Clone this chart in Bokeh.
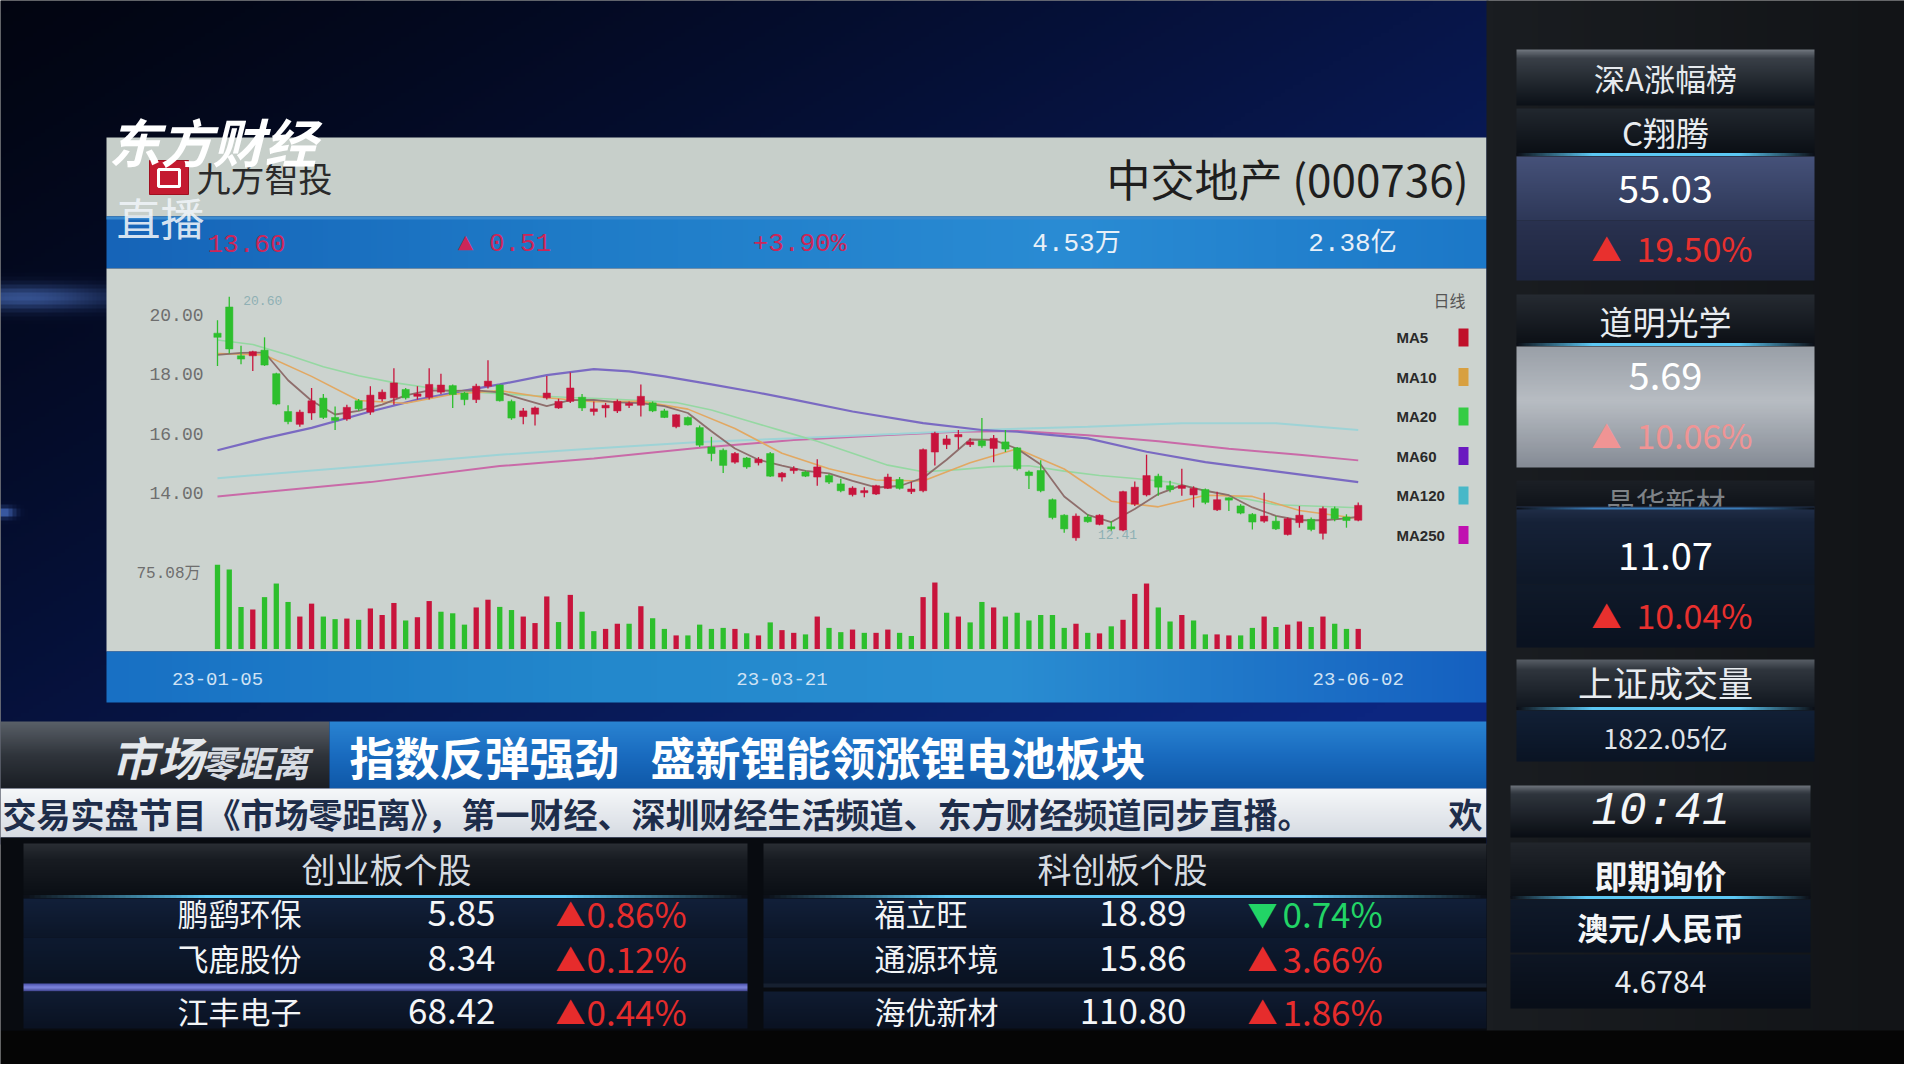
import numpy as np
from bokeh.plotting import figure
from bokeh.models import Range1d, ColumnDataSource
from bokeh.core.properties import value
from bokeh.embed import file_html
from bokeh.resources import INLINE

# ---------------- data ----------------
stock_title = "中交地产 (000736)"
hdr_price = "13.60"
hdr_change = "▲ 0.51"
hdr_pct = "+3.90%"
hdr_volume = "4.53万"
hdr_amount = "2.38亿"

date_labels = ["23-01-05", "23-03-21", "23-06-02"]
date_pos = [0, 48, 97]
price_ticks = [20.0, 18.0, 16.0, 14.0]
price_tick_labels = ["20.00", "18.00", "16.00", "14.00"]
vol_max_label = "75.08万"

opens = [19.38, 20.26, 18.62, 18.62, 18.81, 18.02, 16.75, 16.32, 16.70, 17.20,
         16.55, 16.50, 17.11, 16.73, 17.17, 17.21, 17.49, 17.26, 17.23, 17.40,
         17.62, 17.37, 17.15, 17.60, 17.64, 17.09, 16.58, 16.66, 17.21, 16.87,
         17.09, 17.23, 16.75, 16.87, 16.77, 16.98, 16.96, 17.04, 16.77, 16.24,
         16.55, 16.21, 15.56, 15.45, 15.05, 15.19, 15.03, 15.34, 14.55, 14.79,
         14.72, 14.55, 14.60, 14.32, 13.96, 14.05, 13.98, 14.17, 14.47, 14.06,
         14.09, 15.39, 15.64, 15.90, 15.64, 15.77, 15.51, 15.73, 15.53, 14.72,
         14.77, 13.79, 13.27, 12.51, 13.21, 12.96, 12.88, 12.77, 13.64, 13.95,
         14.58, 14.26, 14.17, 13.95, 14.13, 13.45, 13.83, 13.58, 13.30, 13.07,
         13.07, 12.62, 13.02, 13.13, 12.66, 13.49, 13.21, 13.10]
highs = [19.81, 20.60, 18.96, 18.79, 19.24, 18.05, 16.96, 16.81, 17.54, 17.34,
         16.92, 16.98, 17.17, 17.60, 17.49, 18.20, 17.54, 17.60, 18.20, 18.02,
         17.66, 17.41, 17.68, 18.47, 17.66, 17.15, 16.87, 16.92, 17.94, 17.18,
         18.06, 17.34, 17.09, 17.04, 17.15, 17.09, 17.66, 17.09, 16.84, 16.66,
         16.58, 16.28, 15.90, 15.51, 15.39, 15.22, 15.22, 15.39, 14.72, 14.91,
         14.77, 15.15, 14.66, 14.49, 14.24, 14.21, 14.29, 14.66, 14.55, 14.38,
         15.51, 16.07, 15.96, 16.13, 15.85, 16.53, 15.96, 16.13, 15.56, 14.77,
         15.11, 13.83, 13.30, 13.33, 13.30, 13.30, 13.07, 14.09, 14.40, 15.30,
         14.66, 14.43, 14.83, 14.24, 14.17, 14.06, 13.86, 13.64, 13.34, 14.02,
         13.24, 13.19, 13.58, 13.19, 13.56, 13.56, 13.30, 13.70]
lows = [18.28, 18.70, 18.34, 18.11, 18.28, 16.96, 16.32, 16.24, 16.47, 16.50,
        16.13, 16.44, 16.77, 16.64, 17.09, 16.98, 17.15, 17.15, 17.15, 17.34,
        16.87, 16.96, 17.04, 17.52, 17.09, 16.47, 16.32, 16.28, 17.15, 16.84,
        17.04, 16.77, 16.62, 16.55, 16.70, 16.87, 16.58, 16.73, 16.53, 16.19,
        16.28, 15.56, 15.08, 14.69, 15.00, 14.83, 14.94, 14.55, 14.40, 14.66,
        14.55, 14.26, 14.32, 14.04, 13.90, 13.87, 13.95, 14.15, 14.13, 13.98,
        14.04, 14.94, 15.49, 15.49, 15.56, 15.53, 15.05, 15.39, 14.77, 14.15,
        14.04, 13.13, 12.68, 12.41, 13.02, 12.93, 12.73, 12.73, 13.58, 13.90,
        13.92, 14.04, 13.92, 13.53, 13.64, 13.41, 13.41, 13.30, 12.79, 13.02,
        12.77, 12.59, 12.85, 12.73, 12.45, 13.07, 12.85, 13.07]
closes = [19.24, 18.85, 18.51, 18.76, 18.31, 17.00, 16.41, 16.73, 17.11, 16.55,
          16.45, 16.89, 16.84, 17.30, 17.40, 17.71, 17.21, 17.34, 17.66, 17.64,
          17.32, 17.15, 17.60, 17.77, 17.11, 16.53, 16.77, 16.87, 17.37, 17.09,
          17.54, 16.87, 16.84, 16.96, 17.09, 17.00, 17.26, 16.77, 16.55, 16.64,
          16.30, 15.62, 15.34, 14.94, 15.34, 14.89, 15.15, 14.58, 14.68, 14.81,
          14.58, 14.89, 14.38, 14.09, 14.18, 14.07, 14.26, 14.55, 14.17, 14.15,
          15.47, 16.02, 15.83, 15.98, 15.73, 15.60, 15.85, 15.49, 14.83, 14.60,
          14.09, 13.19, 12.81, 13.24, 13.05, 13.27, 12.81, 14.06, 14.21, 14.60,
          14.21, 14.13, 14.26, 14.17, 13.70, 13.79, 13.80, 13.34, 13.04, 13.24,
          12.81, 13.15, 13.27, 12.79, 13.49, 13.15, 13.09, 13.60]
volumes = [75.08, 70.7, 37.5, 35.2, 46.2, 58.3, 41.9, 28.9, 40.4, 28.9,
           26.6, 27.1, 26.0, 36.1, 30.3, 41.0, 25.4, 28.3, 42.7, 33.2,
           31.8, 21.7, 37.0, 43.9, 37.5, 34.7, 28.9, 23.1, 46.8, 24.0,
           48.2, 33.2, 15.9, 17.9, 22.5, 22.5, 38.1, 27.4, 17.9, 12.1,
           12.1, 21.7, 17.9, 18.8, 17.9, 14.0, 12.1, 23.7, 16.8, 14.4,
           13.0, 28.9, 18.8, 15.0, 17.3, 14.4, 14.4, 17.3, 14.4, 11.6,
           46.2, 59.2, 32.3, 28.9, 23.7, 41.9, 37.0, 28.9, 32.3, 25.4,
           30.3, 30.3, 18.8, 22.5, 14.4, 13.9, 20.2, 26.0, 49.1, 58.3,
           37.0, 24.5, 30.3, 25.4, 13.0, 13.0, 12.1, 12.1, 18.8, 28.9,
           19.6, 21.7, 24.5, 19.6, 28.9, 22.5, 17.9, 17.9]

ma5_idx = [0, 2, 4, 6, 8, 10, 12, 14, 16, 18, 20, 22, 24, 26, 28, 30, 32, 34, 36, 38,
           40, 42, 44, 46, 48, 50, 52, 54, 56, 58, 60, 62, 64, 66, 68, 70, 72, 74, 76, 78,
           80, 82, 84, 86, 88, 90, 92, 94, 96, 97]
ma5_val = [18.65, 18.72, 18.73, 17.80, 17.11, 16.65, 16.77, 16.98, 17.29, 17.46,
           17.44, 17.46, 17.39, 17.16, 16.93, 17.13, 17.14, 17.06, 17.03, 16.93,
           16.70, 16.09, 15.51, 15.13, 14.93, 14.76, 14.67, 14.42, 14.20, 14.25,
           14.52, 15.13, 15.81, 15.80, 15.50, 14.97, 13.90, 13.28, 13.04, 13.48,
           13.98, 14.28, 14.09, 13.94, 13.53, 13.25, 13.10, 13.10, 13.16, 13.22]
ma10_idx = [0, 4, 8, 12, 16, 20, 24, 28, 32, 36, 40, 44, 48, 52, 56, 60, 64, 68, 72,
            76, 80, 84, 88, 92, 97]
ma10_val = [18.70, 18.65, 17.93, 17.12, 17.03, 17.33, 17.45, 17.21, 17.08, 17.09,
            16.83, 16.18, 15.35, 14.83, 14.45, 14.42, 15.03, 15.50, 14.82, 13.74,
            13.55, 13.94, 13.90, 13.43, 13.16]
ma20_idx = [0, 3, 6, 9, 12, 15, 18, 21, 24, 27, 30, 33, 36, 39, 42, 45, 48, 51, 54,
            57, 60, 63, 66, 69, 72, 75, 78, 81, 84, 87, 90, 93, 97]
ma20_val = [19.15, 19.00, 18.65, 18.25, 17.95, 17.72, 17.55, 17.42, 17.35, 17.28,
            17.22, 17.18, 17.12, 17.05, 16.80, 16.45, 16.10, 15.75, 15.35, 14.95,
            14.73, 14.80, 14.90, 14.93, 14.75, 14.60, 14.50, 14.38, 14.10, 13.85,
            13.62, 13.58, 13.52]
ma60_idx = [0, 4, 8, 13, 17, 21, 24, 28, 32, 35, 38, 42, 46, 49, 54, 60, 65, 68, 71,
            74, 79, 84, 90, 97]
ma60_val = [15.45, 15.85, 16.20, 16.75, 17.15, 17.45, 17.66, 17.97, 18.17, 18.10,
            17.93, 17.66, 17.38, 17.15, 16.75, 16.36, 16.13, 16.07, 15.96, 15.85,
            15.40, 15.05, 14.74, 14.38]
ma120_idx = [0, 12, 24, 32, 41, 49, 58, 66, 74, 82, 90, 97]
ma120_val = [14.51, 14.90, 15.30, 15.51, 15.73, 15.85, 16.00, 16.15, 16.24, 16.36,
             16.36, 16.13]
ma250_idx = [0, 13, 24, 32, 41, 49, 57, 63, 68, 74, 80, 86, 92, 97]
ma250_val = [13.90, 14.38, 14.92, 15.17, 15.53, 15.79, 15.96, 16.07, 16.10, 15.95,
             15.75, 15.50, 15.30, 15.11]
ma_names = ["MA5", "MA10", "MA20", "MA60", "MA120", "MA250"]

sz_title = "深A涨幅榜"
sz_names = ["C翔腾", "道明光学", "晶华新材"]
sz_prices = ["55.03", "5.69", "11.07"]
sz_pcts = ["19.50%", "10.06%", "10.04%"]
sh_title = "上证成交量"
sh_volume = "1822.05亿"
clock = "10:41"
fx_title = "即期询价"
fx_pair = "澳元/人民币"
fx_rate = "4.6784"

cyb_title = "创业板个股"
cyb_names = ["鹏鹞环保", "飞鹿股份", "江丰电子"]
cyb_prices = ["5.85", "8.34", "68.42"]
cyb_pcts = ["0.86%", "0.12%", "0.44%"]
cyb_up = [True, True, True]
kcb_title = "科创板个股"
kcb_names = ["福立旺", "通源环境", "海优新材"]
kcb_prices = ["18.89", "15.86", "110.80"]
kcb_pcts = ["0.74%", "3.66%", "1.86%"]
kcb_up = [False, True, True]

headline_a = "指数反弹强劲"
headline_b = "盛新锂能领涨锂电池板块"
ticker_text = "交易实盘节目《市场零距离》，第一财经、深圳财经生活频道、东方财经频道同步直播。"
ticker_tail = "欢"

# ---------------- styling / layout ----------------
CJK = "Noto Sans CJK SC"
MONO = "Liberation Mono, 'Noto Sans CJK SC'"
UP = "#c8143c"
DN = "#2dbf2d"
MA_COLORS = ["#8e6e6c", "#e2a862", "#95d8a2", "#7a6ac2", "#9ed3d6", "#c96aa8"]
LEG_COLORS = ["#c0102a", "#d8a040", "#34cc44", "#6a18c0", "#48b8c8", "#c010b0"]

X0, DX = 225.0, 11.76          # pixel of first candle, pixel step
Y20, PPU = 322.2, 29.79        # pixel of price 20, pixels per unit
VY0, VPU = 656.5, 1.1228       # volume baseline pixel, pixels per 万

p = figure(width=1904, height=1064, x_range=Range1d(8, 1912), y_range=Range1d(-1072, -8),
           x_axis_type=None, y_axis_type=None, toolbar_location=None,
           output_backend="svg", min_border=0, background_fill_color="#06080c",
           border_fill_color="#06080c", outline_line_color=None)
p.extra_x_ranges = {"idx": Range1d((8 - X0) / DX, (1912 - X0) / DX)}
p.extra_y_ranges = {
    "price": Range1d(20 - (1072 - Y20) / PPU, 20 + (Y20 - 8) / PPU),
    "vol": Range1d(-(1072 - VY0) / VPU, (VY0 - 8) / VPU),
}


def hexrgb(h):
    return np.array([int(h[i:i + 2], 16) for i in (1, 3, 5)], float)


def to_rgba(arr):
    arr = np.clip(arr, 0, 255).astype(np.uint8)[::-1]
    h, w, _ = arr.shape
    img = np.empty((h, w), dtype=np.uint32)
    v = img.view(dtype=np.uint8).reshape((h, w, 4))
    v[..., :3] = arr
    v[..., 3] = 255
    return img


def grad(x0, y0, x1, y1, stops, vertical=True, n=96):
    t = np.linspace(0, 1, n)
    pos = [s[0] for s in stops]
    cols = np.array([hexrgb(s[1]) for s in stops])
    c = np.stack([np.interp(t, pos, cols[:, k]) for k in range(3)], axis=-1)
    if vertical:
        arr = np.repeat(c[:, None, :], 2, axis=1)
    else:
        arr = np.repeat(c[None, :, :], 2, axis=0)
    p.image_rgba(image=[to_rgba(arr)], x=x0, y=-y1, dw=x1 - x0, dh=y1 - y0)


def box(x0, y0, x1, y1, color, alpha=1.0, line=None, lw=1):
    p.quad(left=[x0], right=[x1], top=[-y0], bottom=[-y1], fill_color=color,
           fill_alpha=alpha, line_color=line, line_width=lw)


def T(x, y, s, size, color, align="left", bold=False, italic=False, font=CJK, alpha=1.0):
    style = "normal"
    if bold and italic:
        style = "bold italic"
    elif bold:
        style = "bold"
    elif italic:
        style = "italic"
    p.text(x=[x], y=[-y], text=[s], text_font=value(font), text_font_size=f"{size}px",
           text_color=color, text_alpha=alpha, text_align=align, text_baseline="middle",
           text_font_style=style)


def glow(x0, x1, y, color="#5cc8f4", h=3):
    grad(x0, y - h / 2, x1, y + h / 2,
         [(0, "#0c1018"), (0.25, color), (0.75, color), (1, "#0c1018")], vertical=False, n=128)


# ---------------- background ----------------
w, h = 372, 211
xs = 8 + (np.arange(w) + 0.5) * 4
ys = 8 + (np.arange(h) + 0.5) * 4
XX, YY = np.meshgrid(xs, ys)
f = np.clip(0.05 + 0.55 * XX / 1494 + 0.45 * YY / 730, 0, 1) ** 1.3
dark = np.array([2, 4, 14.])
blue = np.array([12, 38, 128.])
col = dark + (blue - dark) * f[..., None]
g1 = np.exp(-(((XX - 30) / 90) ** 2 + ((YY - 305) / 12) ** 2))
g2 = np.exp(-(((XX - 12) / 10) ** 2 + ((YY - 520) / 5) ** 2))
col += (0.55 * g1 + 0.7 * g2)[..., None] * np.array([90, 130, 200.])
p.image_rgba(image=[to_rgba(col)], x=8, y=-852, dw=1488, dh=844)

# ---------------- chart panel ----------------
box(114, 145, 1494, 224, "#c7cfca")
grad(114, 224, 1494, 276, [(0, "#1664b8"), (0.35, "#1f7cc8"), (0.7, "#2a8cd4"), (1, "#1c78c8")],
     vertical=False, n=256)
box(114, 224, 1494, 227, "#3a8ad0")
box(114, 276, 1494, 659, "#ccd3cf")
grad(114, 659, 1494, 710, [(0, "#1870c4"), (0.35, "#2388cc"), (0.65, "#2a8ed2"), (1, "#1560c0")],
     vertical=False, n=256)

# logo 九方智投
box(157, 168, 196, 202, "#c41a30", line="#a01020", lw=1)
box(166, 177, 187, 194, "#c41a30", line="#ffffff", lw=3)
T(204, 185, "九方智投", 34, "#2a2a2a")
T(1476, 185, stock_title, 44, "#1e1e1e", align="right")

T(254, 251, hdr_price, 26, "#cc2658", align="center", font=MONO)
T(512, 251, hdr_change, 26, "#cc2658", align="center", font=MONO)
T(807, 251, hdr_pct, 26, "#cc2658", align="center", font=MONO)
T(1084, 251, hdr_volume, 26, "#e8f0f8", align="center", font=MONO)
T(1360, 251, hdr_amount, 26, "#e8f0f8", align="center", font=MONO)

# y labels (price scale)
p.text(x=[211] * len(price_ticks), y=price_ticks, text=price_tick_labels, y_range_name="price",
       text_font=value(MONO), text_font_size="18px", text_color="#6e6e6e",
       text_align="right", text_baseline="middle")
p.text(x=[208], y=[max(volumes)], text=[vol_max_label], y_range_name="vol",
       text_font=value(MONO), text_font_size="16px", text_color="#6e6e6e",
       text_align="right", text_baseline="top")
p.text(x=date_pos, y=[-686] * len(date_pos), text=date_labels, x_range_name="idx",
       text_font=value(MONO), text_font_size="19px", text_color="#cfe2f4",
       text_align="center", text_baseline="middle")

# legend
T(1473, 307, "日线", 16, "#555555", align="right")
for k, nm in enumerate(ma_names):
    yy = 345 + k * 39.5
    T(1404, yy, nm, 15, "#2a2a2a", font="Liberation Sans", bold=True)
    box(1466, yy - 9, 1476, yy + 9, LEG_COLORS[k])

# ---------------- ticker ----------------
grad(8, 729, 337, 796, [(0, "#5a6068"), (0.5, "#30353c"), (1, "#1a1e24")])
grad(337, 729, 1494, 796, [(0, "#2a84d2"), (0.5, "#1a6cc0"), (1, "#0f58a8")])
T(119, 763, "市场", 46, "#e4e8ec", bold=True, italic=True)
T(208, 768, "零距离", 36, "#d8dce2", bold=True, italic=True)
T(357, 764, headline_a, 45, "#ffffff", bold=True)
T(658, 764, headline_b, 45, "#ffffff", bold=True)
grad(8, 796, 1494, 845, [(0, "#f6f8fa"), (1, "#d6dbe2")])
T(10, 821, ticker_text, 34, "#1e2d4a", bold=True)
T(1456, 821, ticker_tail, 34, "#1e2d4a", bold=True)

# ---------------- right column ----------------
grad(1494, 8, 1912, 1040, [(0, "#1a1d21"), (1, "#121417")], vertical=False, n=64)
box(8, 1038, 1912, 1072, "#050505")
box(8, 845, 1494, 1038, "#080b10")

RX0, RX1, RC = 1524, 1822, 1673
grad(RX0, 57, RX1, 113, [(0, "#70767e"), (0.15, "#3a4048"), (1, "#0c1118")])
T(RC, 85, sz_title, 31, "#e6eaee", align="center")
grad(RX0, 116, RX1, 163, [(0, "#22282f"), (1, "#0a0e14")])
glow(RX0, RX1, 162)
T(RC, 139, sz_names[0], 33, "#e8ecf0", align="center")
grad(RX0, 164, RX1, 228, [(0, "#46527a"), (1, "#2e3858")])
grad(RX0, 228, RX1, 288, [(0, "#2a3250"), (1, "#1e2640")])
T(RC, 196, sz_prices[0], 38, "#ffffff", align="center")
T(1614, 255, "▲", 30, "#e8302e", align="center")
T(1702, 255, sz_pcts[0], 34, "#e8302e", align="center")

grad(RX0, 302, RX1, 352, [(0, "#262b32"), (1, "#0c1016")])
glow(RX0, RX1, 352)
T(RC, 328, sz_names[1], 33, "#e8ecf0", align="center")
grad(RX0, 354, RX1, 475, [(0, "#9aa0a8"), (0.45, "#b8bdc3"), (1, "#868c96")])
T(RC, 383, sz_prices[1], 38, "#ffffff", align="center")
T(1614, 442, "▲", 30, "#f09494", align="center")
T(1702, 442, sz_pcts[1], 34, "#f09494", align="center")

grad(RX0, 488, RX1, 514, [(0, "#1c2026"), (1, "#10141a")])
T(RC, 508, sz_names[2], 30, "#c8ccd0", align="center", alpha=0.6)
grad(RX0, 514, RX1, 592, [(0, "#22304a"), (0.2, "#162238"), (1, "#0e1828")])
glow(RX0, RX1, 516, color="#3a7cb8", h=2)
grad(RX0, 592, RX1, 655, [(0, "#101a2a"), (1, "#0a1220")])
T(RC, 563, sz_prices[2], 38, "#ffffff", align="center")
T(1614, 622, "▲", 30, "#e8302e", align="center")
T(1702, 622, sz_pcts[2], 34, "#e8302e", align="center")

grad(RX0, 667, RX1, 716, [(0, "#565c64"), (0.2, "#30363e"), (1, "#10161e")])
glow(RX0, RX1, 716)
T(RC, 689, sh_title, 35, "#e8ecf0", align="center")
grad(RX0, 718, RX1, 769, [(0, "#122036"), (1, "#0a1424")])
T(RC, 745, sh_volume, 27, "#e0e4e8", align="center")

grad(1518, 793, 1818, 845, [(0, "#6c727a"), (0.15, "#30363e"), (1, "#0a0e14")])
T(1668, 819, clock, 46, "#f4f6f8", align="center", font="Liberation Mono", italic=True)
grad(1518, 850, 1818, 905, [(0, "#22262c"), (1, "#0c1016")])
glow(1518, 1818, 905)
T(1668, 882, fx_title, 33, "#f4f6f8", align="center", bold=True)
grad(1518, 907, 1818, 960, [(0, "#101a2a"), (1, "#0a1220")])
T(1668, 934, fx_pair, 31, "#f4f6f8", align="center", bold=True)
grad(1518, 962, 1818, 1016, [(0, "#0e1624"), (1, "#080e18")])
T(1668, 989, fx_rate, 30, "#e8ecf0", align="center")

# ---------------- bottom tables ----------------
def table(x0, x1, title, tcx, names, prices, pcts, ups, name_x, name_align, price_x, arrow_x,
          pct_x, purple):
    grad(x0, 851, x1, 905, [(0, "#2a2e34"), (0.3, "#181c22"), (1, "#0a0e14")])
    glow(x0, x1, 904)
    grad(x0, 906, x1, 945, [(0, "#12203a"), (1, "#0c1628")])
    grad(x0, 945, x1, 992, [(0, "#0e1a30"), (1, "#0a1322")])
    if purple:
        grad(x0, 991, x1, 999, [(0, "#4a50a8"), (0.5, "#8088e0"), (1, "#3a3f88")])
    else:
        box(x0, 991, x1, 995, "#162030")
    grad(x0, 999, x1, 1036, [(0, "#101c32"), (1, "#0a1222")])
    T(tcx, 876, title, 34, "#d6dce2", align="center")
    rows_y = [920, 965, 1018]
    for k in range(len(names)):
        c = "#e62c2c" if ups[k] else "#22d466"
        T(name_x, rows_y[k], names[k], 31, "#f2f4f6", align=name_align)
        T(price_x, rows_y[k], prices[k], 35, "#f4f6f8", align="right")
        T(arrow_x, rows_y[k], "▲" if ups[k] else "▼", 30, c, align="center")
        T(pct_x, rows_y[k], pcts[k], 35, c)


table(31, 755, cyb_title, 394, cyb_names, cyb_prices, cyb_pcts, cyb_up, 247, "center", 503,
      578, 594, True)
table(771, 1494, kcb_title, 1130, kcb_names, kcb_prices, kcb_pcts, kcb_up, 882, "left", 1194,
      1270, 1290, False)

# ---------------- candlestick chart (data) ----------------
o = np.array(opens)
c = np.array(closes)
hi = np.array(highs)
lo = np.array(lows)
idx = np.arange(len(c))
up = c >= o
prev = np.r_[np.nan, c[:-1]]
vol_up = np.where(np.isnan(prev), up, c > prev)
bt = np.maximum(o, c)
bb = np.minimum(o, c)
small = (bt - bb) < 0.05
bt = np.where(small, bt + 0.025, bt)
bb = np.where(small, bb - 0.025, bb)

for xi, yv, colr, lw in [(ma250_idx, ma250_val, MA_COLORS[5], 2.0),
                         (ma120_idx, ma120_val, MA_COLORS[4], 2.0),
                         (ma60_idx, ma60_val, MA_COLORS[3], 2.2),
                         (ma20_idx, ma20_val, MA_COLORS[2], 1.6),
                         (ma10_idx, ma10_val, MA_COLORS[1], 1.6),
                         (ma5_idx, ma5_val, MA_COLORS[0], 1.8)]:
    p.line(x=xi, y=yv, line_color=colr, line_width=lw, x_range_name="idx", y_range_name="price")

src = ColumnDataSource(dict(i=idx, lo=lo, hi=hi, bt=bt, bb=bb,
                            cc=np.where(up, UP, DN),
                            vol=np.array(volumes), vc=np.where(vol_up, UP, DN)))
p.segment(x0="i", y0="lo", x1="i", y1="hi", line_color="cc", line_width=1.3, source=src,
          x_range_name="idx", y_range_name="price")
p.vbar(x="i", width=0.62, top="bt", bottom="bb", fill_color="cc", line_color="cc",
       line_width=0.5, source=src, x_range_name="idx", y_range_name="price")
p.vbar(x="i", width=0.45, top="vol", bottom=0, fill_color="vc", line_color=None, source=src,
       x_range_name="idx", y_range_name="vol")

imax = int(np.argmax(hi))
imin = int(np.argmin(lo))
p.text(x=[imax], y=[hi[imax]], text=[f"{hi[imax]:.2f}"], x_range_name="idx",
       y_range_name="price", x_offset=14, y_offset=4, text_font=value(MONO),
       text_font_size="13px", text_color="#8fb0b4", text_baseline="middle")
p.text(x=[imin], y=[lo[imin]], text=[f"{lo[imin]:.2f}"], x_range_name="idx",
       y_range_name="price", x_offset=22, y_offset=-6, text_font=value(MONO),
       text_font_size="13px", text_color="#8fb0b4", text_baseline="middle")

# ---------------- overlay logos ----------------
T(116, 148, "东方财经", 52, "#ffffff", bold=True, italic=True)
T(124, 224, "直播", 44, "#f0f4f8", alpha=0.9)

open("out.html", "w").write(file_html(p, INLINE))
